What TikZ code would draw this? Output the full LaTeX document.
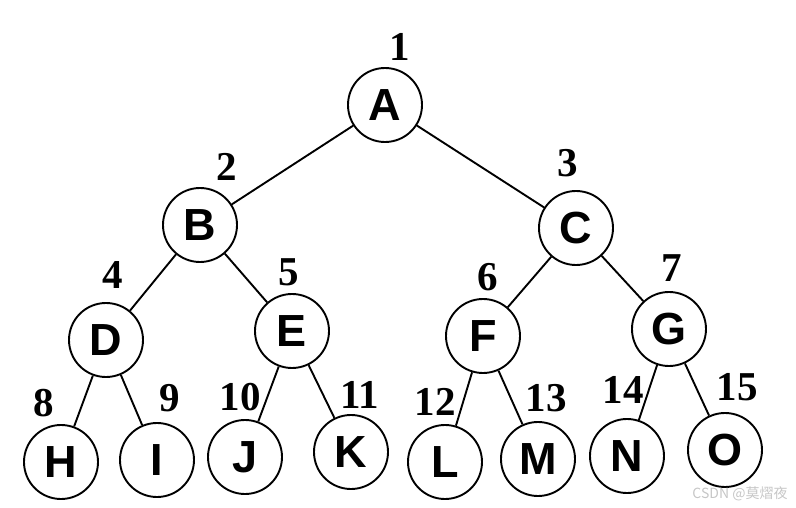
\documentclass[tikz,border=0pt]{standalone}
\usepackage{fontspec}
\setmainfont{Liberation Serif}
\newfontfamily\letterfont{Liberation Sans}
\newfontfamily\cjk{Noto Sans CJK SC}
\usepackage{tikz}
\usetikzlibrary{positioning}

\begin{document}
\begin{tikzpicture}[
  x=1pt, y=-1pt,
  vertex/.style={circle, draw, line width=1.9pt, minimum size=74pt, inner sep=0pt,
    font=\letterfont\bfseries\fontsize{45}{45}\selectfont},
  idx/.style={font=\bfseries\fontsize{41}{41}\selectfont, inner sep=0pt},
  edge/.style={line width=1.9pt},
  watermark/.style={font=\cjk\fontsize{14}{14}\selectfont, text=gray!45, inner sep=0pt},
]
\useasboundingbox (0,0) rectangle (796,508);

% Level 0
\node[vertex] (a) at (385,105) {A};

% Level 1
\node[vertex] (b) at (200,225) {B};
\node[vertex] (c) at (576,228) {C};

% Level 2
\node[vertex] (d) at (106,340) {D};
\node[vertex] (e) at (292,331) {E};
\node[vertex] (f) at (483,336) {F};
\node[vertex] (g) at (669,329) {G};

% Level 3
\node[vertex] (h) at (61,462) {H};
\node[vertex] (i) at (157,460) {I};
\node[vertex] (j) at (245,457) {J};
\node[vertex] (k) at (351,452) {K};
\node[vertex] (l) at (445,462) {L};
\node[vertex] (m) at (538,459) {M};
\node[vertex] (n) at (627,456) {N};
\node[vertex] (o) at (725,450) {O};

% Edges
\draw[edge] (a) -- (b);
\draw[edge] (a) -- (c);
\draw[edge] (b) -- (d);
\draw[edge] (b) -- (e);
\draw[edge] (c) -- (f);
\draw[edge] (c) -- (g);
\draw[edge] (d) -- (h);
\draw[edge] (d) -- (i);
\draw[edge] (e) -- (j);
\draw[edge] (e) -- (k);
\draw[edge] (f) -- (l);
\draw[edge] (f) -- (m);
\draw[edge] (g) -- (n);
\draw[edge] (g) -- (o);

% Numbers
\node[idx] (n1) at (400,47) {1};
\node[idx] (n2) at (227,167) {2};
\node[idx] (n3) at (568,163) {3};
\node[idx] (n4) at (113,275) {4};
\node[idx] (n5) at (289,272) {5};
\node[idx] (n6) at (488,277) {6};
\node[idx] (n7) at (672,268) {7};
\node[idx] (n8) at (44,403) {8};
\node[idx] (n9) at (170,398) {9};
\node[idx] (n10) at (240,397) {10};
\node[idx] (n11) at (360,395) {11};
\node[idx] (n12) at (435,402) {12};
\node[idx] (n13) at (546,398) {13};
\node[idx] (n14) at (623,390) {14};
\node[idx] (n15) at (737,387) {15};

% Watermark
\node[watermark] (wm) at (740,494) {CSDN @莫熠夜};

\end{tikzpicture}
\end{document}
